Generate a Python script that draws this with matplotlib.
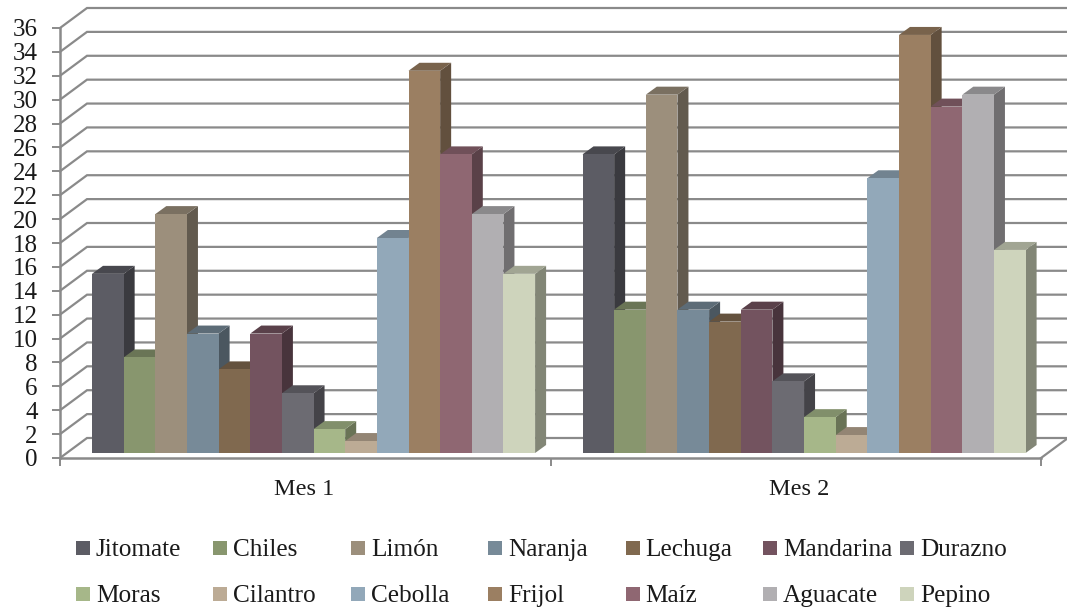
#!/usr/bin/env python
# -*- coding: utf-8 -*-
import matplotlib
matplotlib.use('Agg')
import matplotlib.pyplot as plt
from matplotlib.colors import to_rgb
from matplotlib.patches import Polygon, Rectangle

plt.rcParams['font.family'] = ['Liberation Serif', 'DejaVu Serif']

GROUPS = ['Mes 1', 'Mes 2']
PRODUCTS = ['Jitomate', 'Chiles', 'Limón', 'Naranja', 'Lechuga', 'Mandarina', 'Durazno',
            'Moras', 'Cilantro', 'Cebolla', 'Frijol', 'Maíz', 'Aguacate', 'Pepino']
MES_1 = [15, 8, 20, 10, 7, 10, 5, 2, 1, 18, 32, 25, 20, 15]
MES_2 = [25, 12, 30, 12, 11, 12, 6, 3, 1.5, 23, 35, 29, 30, 17]
COLORS = ['#5c5c64', '#88966e', '#9c8f7c', '#778a98', '#80694f', '#73535f', '#6c6b72',
          '#a6b789', '#bcab95', '#92a8b9', '#9b7f62', '#8f6772', '#b1afb2', '#ced4bc']
Y_TICKS = list(range(0, 37, 2))

GRID = '#8a8a8a'
TEXT = '#1a1a1a'
W, H = 1067, 610
PX_X = 490.5  # pixels per group
PX_Y = 430 / 36  # pixels per value unit

# 3d look, in data units
WALL_DX, WALL_DY = 27 / PX_X, 20 / PX_Y
DEPTH_DX, DEPTH_DY = 11 / PX_X, 8 / PX_Y
FLOOR = 5 / PX_Y
BAR_W = 31.65 / PX_X
BAR_START = -0.5 + 32 / PX_X


def shade(color, factor):
    return tuple(c * factor for c in to_rgb(color))


def draw_bar(ax, x, value, color):
    top = FLOOR + value
    x2 = x + BAR_W
    side = [(x2, FLOOR), (x2 + DEPTH_DX, FLOOR + DEPTH_DY),
            (x2 + DEPTH_DX, top + DEPTH_DY), (x2, top)]
    cap = [(x, top), (x + DEPTH_DX, top + DEPTH_DY),
           (x2 + DEPTH_DX, top + DEPTH_DY), (x2, top)]
    ax.add_patch(Polygon(side, fc=shade(color, 0.63), ec='none', zorder=3, clip_on=False))
    ax.add_patch(Polygon(cap, fc=shade(color, 0.78), ec='none', zorder=3, clip_on=False))
    ax.bar(x, value, BAR_W, bottom=FLOOR, align='edge', color=color, zorder=3)


def main():
    fig = plt.figure(figsize=(W / 100, H / 100), dpi=100)
    ax = fig.add_axes([60 / W, (H - 458) / H, 981 / W, 430 / H])
    ax.set_xlim(-0.5, 1.5)
    ax.set_ylim(0, 36)

    # back wall and floor lines
    right = 1.5 + WALL_DX
    for v in Y_TICKS:
        ax.plot([-0.5, -0.5 + WALL_DX, right], [v, v + WALL_DY, v + WALL_DY],
                color=GRID, lw=1.6, clip_on=False, zorder=1, solid_joinstyle='miter')
    ax.plot([1.5, right], [0, WALL_DY], color=GRID, lw=1.6, clip_on=False, zorder=1)

    for g, values in enumerate([MES_1, MES_2]):
        for i, value in enumerate(values):
            draw_bar(ax, BAR_START + g + i * BAR_W, value, COLORS[i])

    for name in ['top', 'right']:
        ax.spines[name].set_visible(False)
    for name in ['left', 'bottom']:
        ax.spines[name].set_color(GRID)
        ax.spines[name].set_linewidth(1.8)
    ax.patch.set_alpha(0)

    ax.set_yticks(Y_TICKS)
    ax.tick_params(axis='y', length=6, width=1.4, color=GRID, pad=10, labelsize=18, labelcolor=TEXT)
    ax.set_xticks([-0.5, 0.5, 1.5])
    ax.set_xticklabels([])
    ax.tick_params(axis='x', length=6, width=1.4, color=GRID)
    ax.set_xticks([-0.002, 1.008], GROUPS, minor=True)
    ax.tick_params(axis='x', which='minor', length=0, pad=15, labelsize=17.5, labelcolor=TEXT)

    # legend, two rows of seven
    for i, name in enumerate(PRODUCTS):
        col, row = i % 7, i // 7
        x = 76 + col * 137.4
        y = 541 + row * 46
        fig.add_artist(Rectangle((x / W, 1 - (y + 14) / H), 14 / W, 14 / H,
                                 transform=fig.transFigure, fc=COLORS[i], ec='none'))
        fig.text((x + 20) / W, 1 - (y + 15) / H, name, fontsize=18.2, color=TEXT,
                 ha='left', va='baseline')

    fig.savefig('out.png', dpi=100)


if __name__ == '__main__':
    main()
